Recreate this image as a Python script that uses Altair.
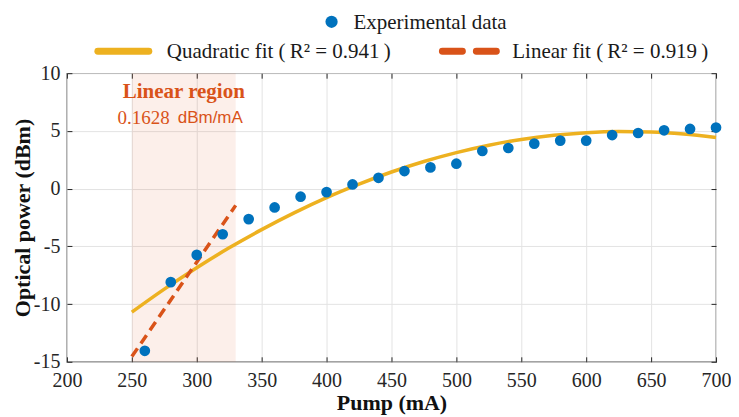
import altair as alt
import pandas as pd

# ---- data ----
pump_ma = [260, 280, 300, 320, 340, 360, 380, 400, 420, 440, 460, 480,
           500, 520, 540, 560, 580, 600, 620, 640, 660, 680, 700]
power_dbm = [-14.05, -8.1, -5.74, -3.95, -2.64, -1.63, -0.7, -0.3, 0.36, 0.94,
             1.52, 1.84, 2.16, 3.26, 3.52, 3.9, 4.16, 4.16, 4.64, 4.82,
             5.05, 5.17, 5.29]

quad_x = [250, 275, 300, 325, 350, 375, 400, 425, 450, 475, 500, 525,
          550, 575, 600, 625, 650, 675, 700]
quad_y = [-10.7, -8.71, -6.85, -5.13, -3.55, -2.1, -0.78, 0.39, 1.44, 2.35,
          3.12, 3.76, 4.26, 4.62, 4.85, 4.95, 4.91, 4.73, 4.42]

lin_x = [250, 330]
lin_y = [-14.55, -1.45]

region_start, region_end = 250, 330
label_x = 290
label_y1, label_y2 = 8.35, 6.1

x_ticks = [200, 250, 300, 350, 400, 450, 500, 550, 600, 650, 700]
y_ticks = [-15, -10, -5, 0, 5, 10]

BLUE = "#0072BD"
YELLOW = "#EDB120"
ORANGE = "#D95319"
FONT = "Liberation Serif"

W, H = 650, 289

xs = alt.Scale(domain=[200, 700], nice=False, zero=False)
ys = alt.Scale(domain=[-15, 10], nice=False, zero=False)

x_axis = alt.Axis(values=x_ticks, title="Pump (mA)", grid=True, labelFlush=False,
                  domain=False, tickSize=5, offset=-5, labelPadding=9,
                  titlePadding=2, orient="bottom", labelExpr="'' + datum.value")
y_axis = alt.Axis(values=y_ticks, title="Optical power (dBm)", labelFlush=False,
                  grid=True, domain=False, tickSize=5, offset=-5, labelPadding=7,
                  titlePadding=-1, orient="left", labelExpr="'' + datum.value")

df_pts = pd.DataFrame({"x": pump_ma, "y": power_dbm})
df_quad = pd.DataFrame({"x": quad_x, "y": quad_y})
df_lin = pd.DataFrame({"x": lin_x, "y": lin_y})
df_reg = pd.DataFrame({"x": [region_start], "x2": [region_end], "y": [-15], "y2": [10]})
df_lab = pd.DataFrame({"x": [label_x], "y1": [label_y1], "y2": [label_y2]})
one = pd.DataFrame({"k": [0]})

region = alt.Chart(df_reg).mark_rect(color=ORANGE, opacity=0.09).encode(
    x=alt.X("x:Q", scale=xs, axis=x_axis), x2="x2",
    y=alt.Y("y:Q", scale=ys, axis=y_axis), y2="y2")

quad = alt.Chart(df_quad).mark_line(color=YELLOW, strokeWidth=3.5,
                                    interpolate="monotone").encode(
    x=alt.X("x:Q", scale=xs), y=alt.Y("y:Q", scale=ys))

lin = alt.Chart(df_lin).mark_line(color=ORANGE, strokeWidth=3.5,
                                  strokeDash=[10, 6]).encode(
    x=alt.X("x:Q", scale=xs), y=alt.Y("y:Q", scale=ys))

pts = alt.Chart(df_pts).mark_circle(color=BLUE, size=115, opacity=1).encode(
    x=alt.X("x:Q", scale=xs), y=alt.Y("y:Q", scale=ys))

lab1 = alt.Chart(df_lab).mark_text(text="Linear region", font=FONT, fontSize=21,
                                   fontWeight="bold", color=ORANGE,
                                   baseline="middle").encode(
    x=alt.X("x:Q", scale=xs), y=alt.Y("y1:Q", scale=ys))
lab2a = alt.Chart(df_lab).mark_text(text="0.1628", font=FONT, fontSize=19,
                                    color=ORANGE, baseline="middle", align="right",
                                    dx=-14).encode(
    x=alt.X("x:Q", scale=xs), y=alt.Y("y2:Q", scale=ys))
lab2b = alt.Chart(df_lab).mark_text(text="dBm/mA", font="Liberation Sans", fontSize=17,
                                    color=ORANGE, baseline="middle", align="left",
                                    dx=-6).encode(
    x=alt.X("x:Q", scale=xs), y=alt.Y("y2:Q", scale=ys))

base = alt.layer(region, quad, lin, pts, lab1, lab2a, lab2b)

# top / right box ticks (MATLAB "box on")
box_ticks = alt.Chart(df_pts).mark_point(opacity=0).encode(
    x=alt.X("x:Q", scale=xs,
            axis=alt.Axis(orient="top", values=x_ticks, labels=False, title=None,
                          grid=False, domain=False, tickSize=5, offset=-5)),
    y=alt.Y("y:Q", scale=ys,
            axis=alt.Axis(orient="right", values=y_ticks, labels=False, title=None,
                          grid=False, domain=False, tickSize=5, offset=-5)))

# ---- legend (drawn above the plot area) ----
TXT = "#1a1a1a"
leg_dot = alt.Chart(one).mark_circle(color=BLUE, size=150, opacity=1).encode(
    x=alt.value(265), y=alt.value(-51.5))
leg_t1 = alt.Chart(one).mark_text(text="Experimental data", font=FONT, fontSize=21,
                                  align="left", baseline="middle", color=TXT).encode(
    x=alt.value(287), y=alt.value(-50.5))
leg_l1 = alt.Chart(one).mark_rule(color=YELLOW, strokeWidth=7, strokeCap="round").encode(
    x=alt.value(31), x2=alt.value(82), y=alt.value(-22))
leg_t2 = alt.Chart(one).mark_text(text="Quadratic fit (\u2009R² = 0.941\u2009)", font=FONT,
                                  fontSize=21, align="left", baseline="middle",
                                  color=TXT).encode(
    x=alt.value(100), y=alt.value(-21))
leg_l2 = alt.Chart(one).mark_rule(color=ORANGE, strokeWidth=7, strokeCap="round",
                                  strokeDash=[20, 14]).encode(
    x=alt.value(376), x2=alt.value(430), y=alt.value(-22))
leg_t3 = alt.Chart(one).mark_text(text="Linear fit (\u2009R² = 0.919\u2009)", font=FONT,
                                  fontSize=21, align="left", baseline="middle",
                                  color=TXT).encode(
    x=alt.value(446), y=alt.value(-21))

chart = alt.layer(base, box_ticks,
                  leg_dot, leg_t1, leg_l1, leg_t2, leg_l2, leg_t3).resolve_scale(
    x="independent", y="independent"
).properties(
    width=W, height=H,
    autosize=alt.AutoSizeParams(type="none"),
    padding={"left": 59, "top": 65, "right": 15, "bottom": 55},
).configure_view(
    stroke="#262626", strokeWidth=1.2
).configure_axis(
    labelFont=FONT, titleFont=FONT, labelFontSize=20, titleFontSize=22,
    titleFontWeight="bold", labelColor="#262626", titleColor="#111",
    tickColor="#262626", gridColor="#E3E3E3", gridWidth=1
)

chart.save("out.html", embed_options={"renderer": "svg", "actions": False})
